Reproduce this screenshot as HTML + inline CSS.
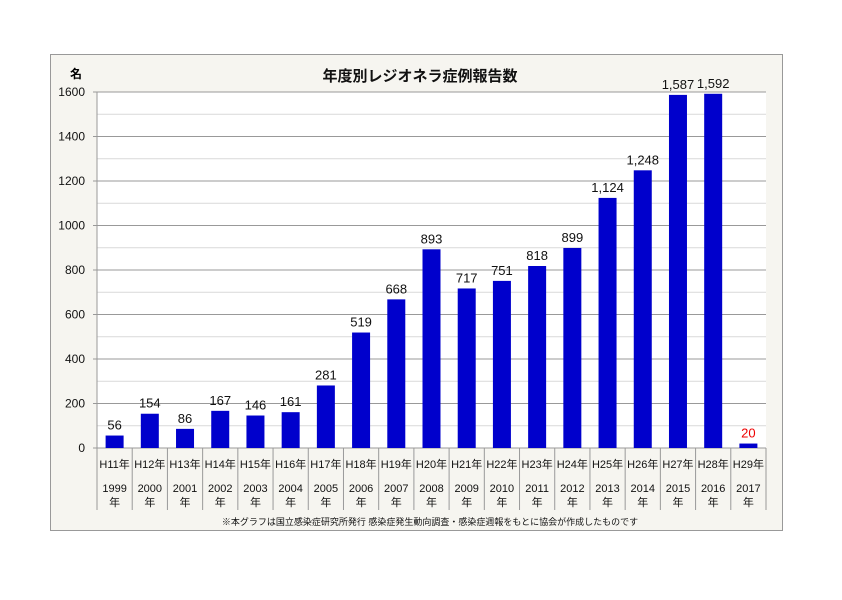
<!DOCTYPE html>
<html><head><meta charset="utf-8"><style>
body{margin:0;background:#fff;width:842px;height:595px;overflow:hidden}
svg{font-family:"Liberation Sans","Noto Sans CJK JP",sans-serif}
</style></head><body>
<svg width="842" height="595">
<rect x="50.5" y="54.5" width="732" height="476" fill="#f6f5f0" stroke="#999"/>
<rect x="97" y="92" width="669" height="356" fill="#fff"/>
<text x="420" y="81" text-anchor="middle" font-size="15" font-weight="bold" fill="#111">年度別レジオネラ症例報告数</text>
<text x="76" y="78" text-anchor="middle" font-size="12" font-weight="bold">名</text>
<g id="grid"></g><g id="bars"></g><g id="xaxis"></g>
<text x="430" y="525" text-anchor="middle" font-size="9" fill="#111">※本グラフは国立感染症研究所発行 感染症発生動向調査・感染症週報をもとに協会が作成したものです</text>
</svg>
<script>
const eras=["H11年","H12年","H13年","H14年","H15年","H16年","H17年","H18年","H19年","H20年","H21年","H22年","H23年","H24年","H25年","H26年","H27年","H28年","H29年"];
const years=["1999","2000","2001","2002","2003","2004","2005","2006","2007","2008","2009","2010","2011","2012","2013","2014","2015","2016","2017"];
const values=[56,154,86,167,146,161,281,519,668,893,717,751,818,899,1124,1248,1587,1592,20];
const yTicks=[0,200,400,600,800,1000,1200,1400,1600];
const NS="http://www.w3.org/2000/svg";
const x0=97,x1=766,y0=448,y1=92,ymax=1600;
const y=v=>y0-(v/ymax)*(y0-y1);
const cw=(x1-x0)/values.length;
function mk(t,a,p){const e=document.createElementNS(NS,t);for(const k in a)e.setAttribute(k,a[k]);p.appendChild(e);return e;}
const g=document.getElementById('grid'),b=document.getElementById('bars'),xa=document.getElementById('xaxis');
for(let v=100;v<=ymax;v+=100){
 const l=mk('line',{x1:x0,x2:x1,y1:y(v),y2:y(v),stroke:v%200?'#d9d9d9':'#999'},g);
 
 
}
yTicks.forEach(v=>{
 const tk=mk('line',{x1:x0-4,x2:x0,y1:y(v),y2:y(v),stroke:'#999'},g);
 
 
 const t=mk('text',{x:x0-12,y:y(v)+4,'text-anchor':'end','font-size':'12',fill:'#111'},g);
 t.textContent=v;
 
 
});
const ax=mk('line',{x1:x0,x2:x0,y1:y1,y2:y0,stroke:'#999'},g);


const bx=mk('line',{x1:x0,x2:x1,y1:y0,y2:y0,stroke:'#999'},g);


for(let i=0;i<=values.length;i++){
 const s=mk('line',{x1:x0+i*cw,x2:x0+i*cw,y1:y0,y2:510,stroke:'#999'},xa);
 
 
}
values.forEach((v,i)=>{
 const cx=x0+cw*(i+0.5),bw=18;
 const r=mk('rect',{x:cx-bw/2,y:y(v),width:bw,height:y0-y(v),fill:'#0000cc'},b);
 
 
 const t=mk('text',{x:cx,y:y(v)-6,'text-anchor':'middle','font-size':'13',fill:v<50?'#e00':'#111'},b);
 t.textContent=v.toLocaleString('en-US');
 
 
 const a=mk('text',{x:cx,y:468,'text-anchor':'middle','font-size':'11',fill:'#111'},xa);
 a.textContent=eras[i];
 
 
 const c=mk('text',{x:cx,y:492,'text-anchor':'middle','font-size':'11',fill:'#111'},xa);
 c.textContent=years[i];
 
 
 const d=mk('text',{x:cx,y:506,'text-anchor':'middle','font-size':'11',fill:'#111'},xa);
 d.textContent='年';
 
 
});
</script>
</body></html>
